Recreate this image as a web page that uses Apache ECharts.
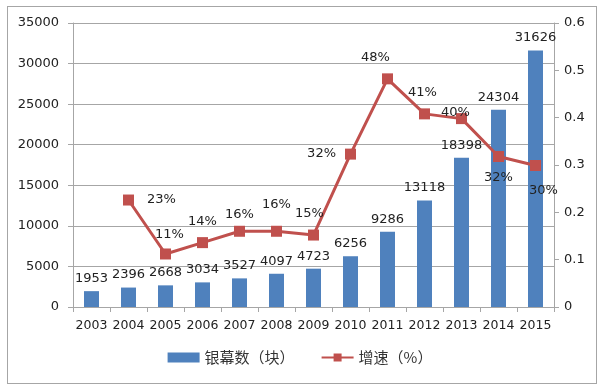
<!DOCTYPE html>
<html>
<head>
<meta charset="utf-8">
<script src="https://cdn.jsdelivr.net/npm/echarts@6/dist/echarts.min.js"></script>
<style>
html,body{margin:0;padding:0;background:#fff;}
#wrap{position:absolute;left:7px;top:6px;width:588px;height:376px;border:1px solid #a6a6a6;}
#main{position:absolute;left:0;top:0;width:600px;height:388px;}
</style>
</head>
<body>
<div id="wrap"></div>
<div id="main"></div>
<script>
const years = ['2003','2004','2005','2006','2007','2008','2009','2010','2011','2012','2013','2014','2015'];
const screens = [1953,2396,2668,3034,3527,4097,4723,6256,9286,13118,18398,24304,31626];
const growth = [null,0.226,0.112,0.136,0.160,0.160,0.152,0.323,0.482,0.408,0.398,0.318,0.299];
const growthLabels = ['', '23%','11%','14%','16%','16%','15%','32%','48%','41%','40%','32%','30%'];
const seriesNames = ['银幕数（块）','增速（%）'];

const FONT = '"DejaVu Sans", "Noto Sans CJK SC", sans-serif';
const labelStyle = [
  null,
  {position:'right', offset:[8,0]},
  {position:'top', offset:[4,-2]},
  {position:'top', offset:[0,-4]},
  {position:'top', offset:[0,0]},
  {position:'top', offset:[0,-10]},
  {position:'top', offset:[-4,-4]},
  {position:'left', offset:[-4,0]},
  {position:'top', offset:[-12,-4]},
  {position:'top', offset:[-2,-4]},
  {position:'inside', offset:[-6,-6]},
  {position:'bottom', offset:[0,4]},
  {position:'bottom', offset:[8,8]}
];
const lineData = growth.map((v,i) => {
  if (v === null) return null;
  const ls = labelStyle[i];
  return {value: v, label: {show:true, position: ls.position, offset: ls.offset, formatter: growthLabels[i]}};
});

const chart = echarts.init(document.getElementById('main'));
chart.setOption({
  animation:false,
  textStyle:{fontFamily:FONT},
  grid:{left:73, right:46, top:23, bottom:81},
  legend:{
    bottom:18, left:'center', itemGap:26, itemWidth:32, itemHeight:10,
    textStyle:{fontFamily:'"Noto Sans CJK SC", "DejaVu Sans", sans-serif', fontSize:15, color:'#333'},
    data:[
      {name:seriesNames[0], icon:'rect'},
      {name:seriesNames[1]}
    ]
  },
  xAxis:{
    type:'category', data:years,
    axisLine:{lineStyle:{color:'#a6a6a6'}},
    axisTick:{show:true, lineStyle:{color:'#a6a6a6'}, length:5},
    axisLabel:{fontFamily:FONT, fontSize:12.5, color:'#222', margin:12, interval:0}
  },
  yAxis:[
    {type:'value', min:0, max:35000, interval:5000,
     axisLine:{show:true, lineStyle:{color:'#a6a6a6'}},
     axisTick:{show:true, length:5, lineStyle:{color:'#a6a6a6'}},
     splitLine:{lineStyle:{color:'#a6a6a6'}},
     axisLabel:{fontFamily:FONT, fontSize:13, color:'#222', margin:14,
       formatter: v => String(v)}},
    {type:'value', min:0, max:0.6, interval:0.1,
     axisLine:{show:true, lineStyle:{color:'#a6a6a6'}},
     axisTick:{show:true, length:5, lineStyle:{color:'#a6a6a6'}},
     splitLine:{show:false},
     axisLabel:{fontFamily:FONT, fontSize:13, color:'#222', margin:10,
       formatter: v => (Math.round(v*10)/10).toString()}}
  ],
  series:[
    {name:seriesNames[0], type:'bar', data:screens, barWidth:15,
     itemStyle:{color:'#4f81bd'},
     label:{show:true, position:'top', distance:6, fontFamily:FONT, fontSize:13, color:'#222'}},
    {name:seriesNames[1], type:'line', yAxisIndex:1, data:lineData,
     connectNulls:false,
     symbol:'rect', symbolSize:11,
     lineStyle:{color:'#c0504d', width:3},
     itemStyle:{color:'#c0504d'},
     label:{fontFamily:FONT, fontSize:13, color:'#222'}}
  ]
});
</script>
</body>
</html>
